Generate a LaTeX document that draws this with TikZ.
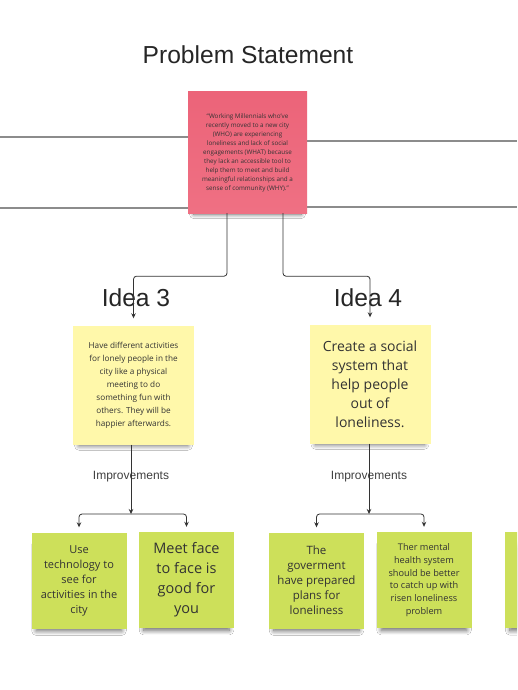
\documentclass[tikz,border=0pt]{standalone}
\usepackage{fontspec}
\setmainfont{Open Sans}
\newfontfamily\arialfont{Liberation Sans}
\usetikzlibrary{shadows.blur,arrows.meta}
\definecolor{pinknote}{HTML}{EF7083}
\definecolor{pinktop}{HTML}{EC6479}
\definecolor{yellownote}{HTML}{FFF8AA}
\definecolor{greennote}{HTML}{CDE05A}
\definecolor{notetext}{HTML}{333333}
\definecolor{connc}{HTML}{333333}
\definecolor{gridc}{HTML}{8C8C8C}
\begin{document}
\begin{tikzpicture}[x=1pt,y=-1pt,
  note/.style={inner sep=0pt, align=center, text=notetext,
    blur shadow={shadow xshift=0pt, shadow yshift=-8pt, shadow scale=0.9, shadow opacity=60, shadow blur steps=10, shadow blur radius=5pt}},
  pinkbox/.style={note, top color=pinktop, bottom color=pinknote, minimum width=119pt, minimum height=121pt},
  yellowbox/.style={note, fill=yellownote, minimum width=121pt, minimum height=119pt},
  greenbox/.style={note, fill=greennote, minimum width=95pt, minimum height=96pt},
  conn/.style={draw=connc, line width=0.8pt, rounded corners=3pt, -{Stealth[length=5pt,width=4.5pt]}},
  gridline/.style={draw=gridc, line width=1.3pt},
  heading/.style={font=\arialfont\fontsize{24.6}{28}\selectfont, text=black!85, inner sep=0pt},
  smalllabel/.style={font=\arialfont\fontsize{12}{14}\selectfont, text=black!75, inner sep=0pt}
]
\clip (0,0) rectangle (517,690);
\fill[white] (0,0) rectangle (517,690);

% background lines
\draw[gridline] (0,137) -- (190,137);
\draw[gridline] (306,141) -- (517,141);
\draw[gridline] (0,208) -- (190,208);
\draw[gridline] (306,207) -- (517,207);

% title
\node[heading] (title) at (248,55) {Problem Statement};

% problem statement note
\node[pinkbox, font=\fontsize{6.3}{9}\selectfont] (pink) at (247.5,152.5)
  {``Working Millennials who've\\recently moved to a new city\\(WHO) are experiencing\\loneliness and lack of social\\engagements (WHAT) because\\they lack an accessible tool to\\help them to meet and build\\meaningful relationships and a\\sense of community (WHY).''};

% ideas
\node[heading] (idea3) at (136,298) {Idea 3};
\node[heading] (idea4) at (368,298) {Idea 4};

\node[yellowbox, font=\fontsize{8.2}{13}\selectfont] (y3) at (133.5,385)
  {Have different activities\\for lonely people in the\\city like a physical\\meeting to do\\something fun with\\others. They will be\\happier afterwards.};
\node[yellowbox, font=\fontsize{14}{19}\selectfont] (y4) at (370,384)
  {Create a social\\system that\\help people\\out of\\loneliness.};

% connectors from problem statement
\draw[conn, shorten >=7pt] ([xshift=-20.5pt]pink.south) -- ++(0,63) -| (y3.north);
\draw[conn, shorten >=7pt] ([xshift=35.5pt]pink.south) -- ++(0,63) -| (y4.north);

% improvements labels
\node[smalllabel] (imp3) at (131,477) {Improvements};
\node[smalllabel] (imp4) at (369,477) {Improvements};

% green notes
\node[greenbox, font=\fontsize{11}{15}\selectfont] (g1) at (79,580.5)
  {Use\\technology to\\see for\\activities in the\\city};
\node[greenbox, font=\fontsize{14.5}{20}\selectfont] (g2) at (186.5,580)
  {Meet face\\to face is\\good for\\you};
\node[greenbox, font=\fontsize{11.5}{15}\selectfont] (g3) at (316.5,580.5)
  {The\\goverment\\have prepared\\plans for\\loneliness};
\node[greenbox, font=\fontsize{9.2}{12.7}\selectfont] (g4) at (424,580)
  {Ther mental\\health system\\should be better\\to catch up with\\risen loneliness\\problem};
\node[greenbox, anchor=north west] (g5) at (505,532) {};

% improvement connectors
\coordinate (j3) at (131,514);
\coordinate (j4) at (369,514);
\draw[conn] ([xshift=-2.5pt]y3.south) -- (j3);
\draw[conn, shorten >=5pt] (j3) -| (g1.north);
\draw[conn, shorten >=5pt] (j3) -| (g2.north);
\draw[conn] ([xshift=-1pt]y4.south) -- (j4);
\draw[conn, shorten >=5pt] (j4) -| (g3.north);
\draw[conn, shorten >=5pt] (j4) -| (g4.north);
\end{tikzpicture}
\end{document}
